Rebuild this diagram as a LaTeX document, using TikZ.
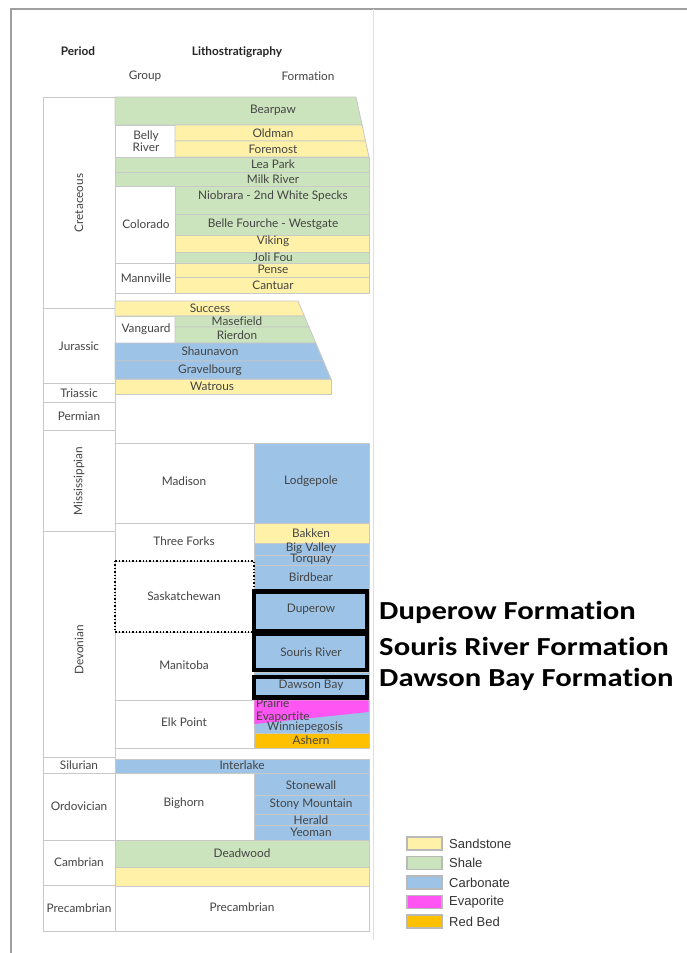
\documentclass[tikz,border=0pt]{standalone}
\usepackage{fontspec}
\setmainfont[Ligatures=NoCommon]{Lato}
\newfontfamily\calibf[Ligatures=NoCommon]{Carlito}
\newfontfamily\arialf{Liberation Sans}
\definecolor{sand}{HTML}{FFF2A8}
\definecolor{shale}{HTML}{CCE4BD}
\definecolor{carb}{HTML}{9DC3E6}
\definecolor{evap}{HTML}{FF55F2}
\definecolor{redbed}{HTML}{FFC000}
\definecolor{gridc}{HTML}{C8C8C8}
\definecolor{txt}{HTML}{444444}
\begin{document}
\begin{tikzpicture}[x=1pt,y=-1pt,
  cell/.style={draw=gridc, line width=0.8pt},
  lab/.style={font=\fontsize{11.8}{12}\selectfont, text=txt, inner sep=0pt},
  hdr/.style={font=\fontsize{11.8}{12}\selectfont\bfseries, text=black!85, inner sep=0pt},
  big/.style={font=\fontsize{26}{27}\selectfont\calibf\bfseries, text=black, inner sep=0pt, anchor=west, xscale=1.18},
  leg/.style={font=\fontsize{13}{14}\selectfont\arialf, text=black!80, inner sep=0pt, anchor=west},
  sw/.style={draw=gray!55, line width=1.2pt},
  hl/.style={draw=black, line width=4.5pt}]
\useasboundingbox (0,0) rectangle (687,953);
\fill[white] (0,0) rectangle (687,953);
% frame
\draw[gray!75, line width=1.3pt] (11,953) -- (11,9) -- (687,9);
\draw[gray!25, line width=0.8pt] (373,9) -- (373,940);

% headers
\node[hdr] (hperiod) at (78,51) {Period};
\node[hdr] (hlitho) at (237,52) {Lithostratigraphy};
\node[lab] (hgroup) at (145,76) {Group};
\node[lab] (hform) at (308,76) {Formation};

% period column
\foreach \a/\b in {97/308,308/383,383/402,402/430,430/531,531/757,757/773,773/840,840/885,885/931}
  \draw[cell] (43,\a) rectangle (115,\b);
\node[lab, rotate=90] (pcret) at (79,203) {Cretaceous};
\node[lab] (pjur) at (79,346) {Jurassic};
\node[lab] (ptri) at (79,393) {Triassic};
\node[lab] (pperm) at (79,416) {Permian};
\node[lab, rotate=90] (pmiss) at (79,481) {Mississippian};
\node[lab, rotate=90] (pdev) at (79,650) {Devonian};
\node[lab] (psil) at (79,765) {Silurian};
\node[lab] (pord) at (79,806) {Ordovician};
\node[lab] (pcam) at (79,862) {Cambrian};
\node[lab] (ppre) at (79,908) {Precambrian};

% Cretaceous
\draw[cell, fill=shale] (115,97) -- (356,97) -- (362.1,125) -- (115,125) -- cycle;
\draw[cell, fill=white] (115,125) rectangle (175,157);
\draw[cell, fill=sand] (175,125) -- (362.1,125) -- (365.5,141) -- (175,141) -- cycle;
\draw[cell, fill=sand] (175,141) -- (365.5,141) -- (369,157) -- (175,157) -- cycle;
\draw[cell, fill=shale] (115,157) rectangle (369,172);
\draw[cell, fill=shale] (115,172) rectangle (369,186);
\draw[cell, fill=white] (115,186) rectangle (175,263);
\draw[cell, fill=shale] (175,186) rectangle (369,214);
\draw[cell, fill=shale] (175,214) rectangle (369,235);
\draw[cell, fill=sand] (175,235) rectangle (369,252);
\draw[cell, fill=shale] (175,252) rectangle (369,263);
\draw[cell, fill=white] (115,263) rectangle (175,293);
\draw[cell, fill=sand] (175,263) rectangle (369,277);
\draw[cell, fill=sand] (175,277) rectangle (369,293);
\node[lab] (bearpaw) at (273,110) {Bearpaw};
\node[lab, align=center, font=\fontsize{11.8}{12.5}\selectfont] (bellyriver) at (146,141) {Belly\\River};
\node[lab] (oldman) at (273,133) {Oldman};
\node[lab] (foremost) at (273,149) {Foremost};
\node[lab] (leapark) at (273,164.5) {Lea Park};
\node[lab] (milkriver) at (273,179) {Milk River};
\node[lab] (colorado) at (146,224) {Colorado};
\node[lab] (niobrara) at (273,196) {Niobrara - 2nd White Specks};
\node[lab] (bellefourche) at (273,224) {Belle Fourche - Westgate};
\node[lab] (viking) at (273,241) {Viking};
\node[lab] (jolifou) at (273,257) {Joli Fou};
\node[lab] (mannville) at (146,278) {Mannville};
\node[lab] (pense) at (273,269.5) {Pense};
\node[lab] (cantuar) at (273,285) {Cantuar};

% Jurassic / Triassic
\draw[cell, fill=sand] (115,301) -- (298,301) -- (304.3,316) -- (115,316) -- cycle;
\draw[cell, fill=white] (115,316) rectangle (175,343);
\draw[cell, fill=shale] (175,316) -- (304.3,316) -- (309,327) -- (175,327) -- cycle;
\draw[cell, fill=shale] (175,327) -- (309,327) -- (315.8,343) -- (175,343) -- cycle;
\draw[cell, fill=carb] (115,343) -- (315.8,343) -- (323.4,361) -- (115,361) -- cycle;
\draw[cell, fill=carb] (115,361) -- (323.4,361) -- (331,379) -- (115,379) -- cycle;
\draw[cell, fill=sand] (115,379) rectangle (331,394);
\node[lab] (success) at (210,308) {Success};
\node[lab] (vanguard) at (146,329.5) {Vanguard};
\node[lab] (masefield) at (237,321.5) {Masefield};
\node[lab] (rierdon) at (237,335) {Rierdon};
\node[lab] (shaunavon) at (210,351.5) {Shaunavon};
\node[lab] (gravelbourg) at (210,370) {Gravelbourg};
\node[lab] (watrous) at (212,386.5) {Watrous};

% Mississippian / Devonian
\draw[cell, fill=white] (115,443) rectangle (254,523);
\draw[cell, fill=carb] (254,443) rectangle (369,523);
\draw[cell, fill=white] (115,523) rectangle (254,561);
\draw[cell, fill=sand] (254,523) rectangle (369,543);
\draw[cell, fill=carb] (254,543) rectangle (369,555);
\draw[cell, fill=carb] (254,555) rectangle (369,565);
\draw[cell, fill=carb] (254,565) rectangle (369,589);
\draw[cell, fill=carb] (254,589) rectangle (369,632);
\draw[cell, fill=carb] (254,632) rectangle (369,672);
\draw[cell, fill=carb] (254,672) rectangle (369,700);
\draw[cell, fill=white] (115,632) rectangle (254,700);
\draw[cell, fill=white] (115,700) rectangle (254,748);
\draw[cell, fill=carb] (254,700) rectangle (369,733);
\fill[evap] (254.4,700.4) -- (368.6,700.4) -- (368.6,712) -- (254.4,724) -- cycle;
\draw[cell, fill=redbed] (254,733) rectangle (369,748);
\draw[black, dotted, line width=1.4pt] (115,561) rectangle (254,632);
\node[lab] (madison) at (184,481) {Madison};
\node[lab] (lodgepole) at (311,481) {Lodgepole};
\node[lab] (threeforks) at (184,541) {Three Forks};
\node[lab] (bakken) at (311,533) {Bakken};
\node[lab] (bigvalley) at (311,548.5) {Big Valley};
\node[lab] (torquay) at (311,559.5) {Torquay};
\node[lab] (birdbear) at (311,577) {Birdbear};
\node[lab] (saskatchewan) at (184,596) {Saskatchewan};
\node[lab] (manitoba) at (184,665) {Manitoba};
\node[lab] (duperow) at (311,609) {Duperow};
\node[lab] (souris) at (311,652) {Souris River};
\node[lab] (dawson) at (311,685) {Dawson Bay};
\node[lab] (elkpoint) at (184,722) {Elk Point};
\node[lab, anchor=west] (prairie) at (256,703.5) {Prairie};
\node[lab, anchor=west] (evaportite) at (256,717) {Evaportite};
\node[lab] (winnie) at (305,727.5) {Winniepegosis};
\node[lab] (ashern) at (311,740.5) {Ashern};

\draw[hl] (254,591.5) rectangle (367,631);
\draw[hl] (254,633.5) rectangle (367,670);
\draw[hl] (254,677) rectangle (367,697.5);

% Silurian and older
\draw[cell, fill=carb] (115,759) rectangle (369,773);
\draw[cell, fill=white] (115,773) rectangle (254,840);
\draw[cell, fill=carb] (254,773) rectangle (369,795);
\draw[cell, fill=carb] (254,795) rectangle (369,814);
\draw[cell, fill=carb] (254,814) rectangle (369,825);
\draw[cell, fill=carb] (254,825) rectangle (369,840);
\draw[cell, fill=shale] (115,840) rectangle (369,867);
\draw[cell, fill=sand] (115,867) rectangle (369,886);
\draw[cell, fill=white] (115,886) rectangle (369,931);
\node[lab] (interlake) at (242,765) {Interlake};
\node[lab] (bighorn) at (184,803) {Bighorn};
\node[lab] (stonewall) at (311,785) {Stonewall};
\node[lab] (stony) at (311,804) {Stony Mountain};
\node[lab] (herald) at (311,820) {Herald};
\node[lab] (yeoman) at (311,832) {Yeoman};
\node[lab] (deadwood) at (242,853) {Deadwood};
\node[lab] (precamb) at (242,907) {Precambrian};

% callouts
\node[big] (tduperow) at (379,612) {Duperow Formation};
\node[big] (tsouris) at (379,646) {Souris River Formation};
\node[big] (tdawson) at (379,679) {Dawson Bay Formation};

% legend
\draw[sw, fill=sand] (407,837) rectangle (442,850);
\draw[sw, fill=shale] (407,856.5) rectangle (442,869.5);
\draw[sw, fill=carb] (407,876) rectangle (442,889);
\draw[sw, fill=evap] (407,895.5) rectangle (442,908.5);
\draw[sw, fill=redbed] (407,915) rectangle (442,928);
\node[leg] (lsand) at (449,843.5) {Sandstone};
\node[leg] (lshale) at (449,863) {Shale};
\node[leg] (lcarb) at (449,882.5) {Carbonate};
\node[leg] (levap) at (449,902) {Evaporite};
\node[leg] (lred) at (449,921.5) {Red Bed};
\end{tikzpicture}
\end{document}
